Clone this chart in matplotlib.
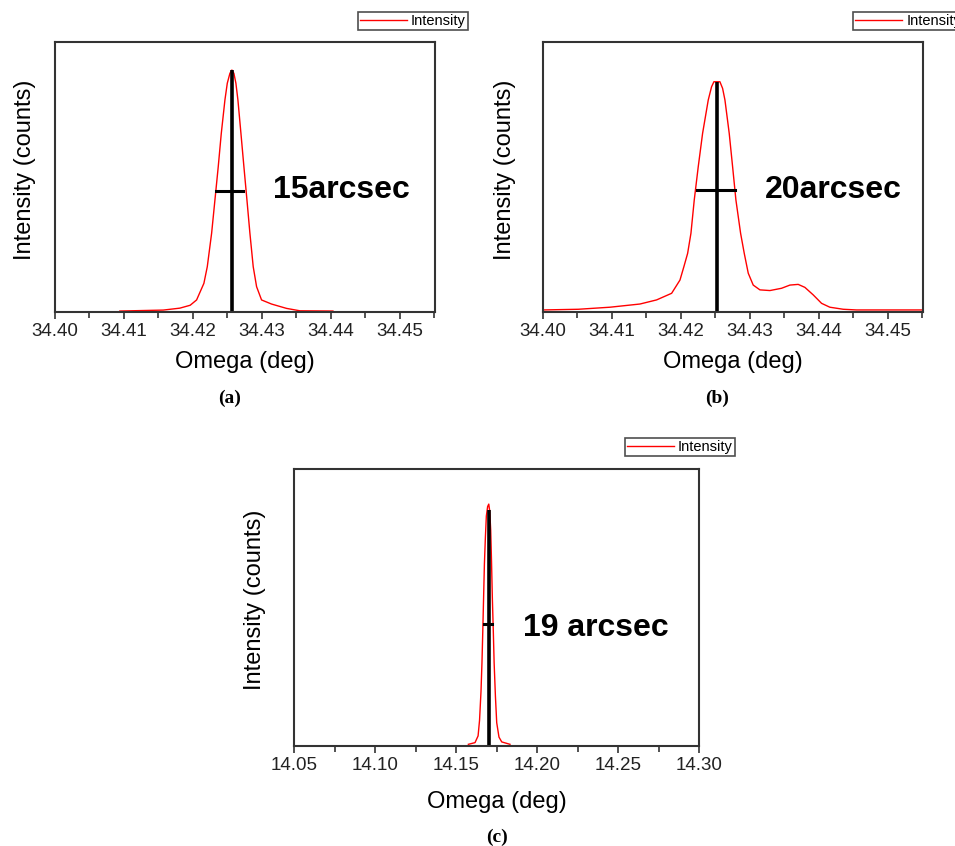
"""Omega rocking curves, three samples"""

import matplotlib
matplotlib.use("Agg")
import matplotlib.pyplot as plt
from matplotlib.ticker import MultipleLocator, NullLocator

plt.rcParams["font.family"] = ["Liberation Sans", "DejaVu Sans"]

# ---- data (intensity normalised to peak = 1) ----
omega_a = [34.4094, 34.4157, 34.4181, 34.4196, 34.42053, 34.42159, 34.42208, 34.42271,
           34.42319, 34.42367, 34.42411, 34.42464, 34.42498, 34.42536, 34.42565, 34.42594,
           34.42623, 34.42652, 34.42696, 34.42739, 34.42783, 34.42826, 34.42874, 34.42923,
           34.42995, 34.43140, 34.43357, 34.43551, 34.4403]
intensity_a = [0.0, 0.004, 0.012, 0.024, 0.046, 0.115, 0.184, 0.323,
               0.461, 0.599, 0.737, 0.876, 0.945, 0.986, 1.0, 0.986,
               0.945, 0.876, 0.737, 0.599, 0.461, 0.323, 0.184, 0.101,
               0.046, 0.029, 0.011, 0.001, 0.0]

omega_b = [34.4000, 34.40512, 34.40971, 34.41406, 34.41647, 34.41865, 34.41986, 34.42043,
           34.42097, 34.42145, 34.42193, 34.42251, 34.42314, 34.42396, 34.42444, 34.42478,
           34.42565, 34.42604, 34.42638, 34.42700, 34.42749, 34.42797, 34.42865, 34.42918,
           34.42976, 34.43048, 34.43145, 34.43290, 34.43459, 34.43580, 34.43700, 34.43797,
           34.43918, 34.44039, 34.44159, 34.44353, 34.44546, 34.4551]
intensity_b = [0.0, 0.003, 0.012, 0.026, 0.044, 0.073, 0.131, 0.190,
               0.248, 0.336, 0.482, 0.628, 0.774, 0.920, 0.978, 1.0,
               1.0, 0.971, 0.920, 0.774, 0.628, 0.482, 0.336, 0.248,
               0.161, 0.109, 0.088, 0.085, 0.095, 0.109, 0.112, 0.099,
               0.066, 0.029, 0.012, 0.003, 0.0, 0.0]

omega_c = [14.1576, 14.1617, 14.1636, 14.1645, 14.1654, 14.1660, 14.1665, 14.1670,
           14.1675, 14.1681, 14.1687, 14.1695, 14.1702, 14.1708, 14.1714, 14.1719,
           14.1724, 14.1730, 14.1735, 14.1743, 14.1751, 14.1765, 14.1782, 14.1833]
intensity_c = [0.0, 0.007, 0.035, 0.10, 0.22, 0.34, 0.47, 0.61,
               0.75, 0.86, 0.95, 0.99, 1.0, 0.97, 0.89, 0.76,
               0.61, 0.47, 0.34, 0.20, 0.09, 0.03, 0.01, 0.0]

# peak marker (centre, top) and FWHM bar (left, right, height)
peak_a = [34.4256, 1.0]
fwhm_a = [34.4234, 34.4273, 0.5]
peak_b = [34.4252, 1.0]
fwhm_b = [34.4224, 34.4278, 0.526]
peak_c = [14.1701, 0.975]
fwhm_c = [14.1673, 14.1722, 0.5]

labels = ["15arcsec", "20arcsec", "19 arcsec"]
panel_tags = ["(a)", "(b)", "(c)"]


def style_axes(ax, major, minor):
    for sp in ax.spines.values():
        sp.set_color("#333333")
        sp.set_linewidth(1.5)
    ax.yaxis.set_major_locator(NullLocator())
    ax.xaxis.set_major_locator(MultipleLocator(major))
    ax.xaxis.set_minor_locator(MultipleLocator(minor))
    ax.tick_params(axis="x", which="major", direction="out", length=5, width=1.2,
                   labelsize=13.5, pad=3, colors="#333333", labelcolor="#222222")
    ax.tick_params(axis="x", which="minor", direction="out", length=4, width=1.2,
                   colors="#333333")
    ax.set_xlabel("Omega (deg)", fontsize=17, va="center")
    ax.set_ylabel("Intensity (counts)", fontsize=17)


def draw_panel(ax, x, y, peak, fwhm, label, text_xy):
    ax.plot(x, y, color="red", linewidth=1.0, label="Intensity")
    ax.plot([peak[0], peak[0]], [ax.get_ylim()[0], peak[1]], color="black",
            linewidth=2.6, solid_capstyle="butt")
    ax.plot([fwhm[0], fwhm[1]], [fwhm[2], fwhm[2]], color="black", linewidth=2.2)
    ax.text(text_xy[0], text_xy[1], label, transform=ax.transAxes,
            fontsize=23, fontweight="bold", va="center", ha="left")


fig = plt.figure(figsize=(9.55, 8.46), dpi=100)

ax_a = fig.add_axes([0.0576, 0.6312, 0.3979, 0.3191])
ax_b = fig.add_axes([0.5686, 0.6312, 0.3979, 0.3191])
ax_c = fig.add_axes([0.3079, 0.1182, 0.4241, 0.3274])

# (a)
ax_a.set_xlim(34.40, 34.4551)
ax_a.set_ylim(-0.004, 1.116)
style_axes(ax_a, 0.01, 0.005)
draw_panel(ax_a, omega_a, intensity_a, peak_a, fwhm_a, labels[0], (0.574, 0.452))
ax_a.yaxis.set_label_coords(-0.05, 0.526)
ax_a.xaxis.set_label_coords(0.5, -0.185)

# (b)
ax_b.set_xlim(34.40, 34.4551)
ax_b.set_ylim(-0.009, 1.174)
style_axes(ax_b, 0.01, 0.005)
draw_panel(ax_b, omega_b, intensity_b, peak_b, fwhm_b, labels[1], (0.584, 0.452))
ax_b.yaxis.set_label_coords(-0.071, 0.526)
ax_b.xaxis.set_label_coords(0.5, -0.185)

# (c)
ax_c.set_xlim(14.05, 14.30)
ax_c.set_ylim(-0.007, 1.146)
style_axes(ax_c, 0.05, 0.025)
draw_panel(ax_c, omega_c, intensity_c, peak_c, fwhm_c, labels[2], (0.565, 0.426))
ax_c.yaxis.set_label_coords(-0.070, 0.527)
ax_c.xaxis.set_label_coords(0.5, -0.202)

# legends, placed in figure coords; (b) runs off the right edge like the original
legend_spots = [
    (ax_a, "upper right", (468 / 955, 1 - 12 / 846)),
    (ax_b, "upper left", (853 / 955, 1 - 12 / 846)),
    (ax_c, "upper right", (735 / 955, 1 - 438 / 846)),
]
for ax, loc, anchor in legend_spots:
    leg = ax.legend(handles=ax.get_lines()[:1], loc=loc,
                    bbox_to_anchor=anchor, bbox_transform=fig.transFigure,
                    fontsize=10.5, frameon=True, fancybox=False, borderpad=0.15,
                    handlelength=3.2, handletextpad=0.3, borderaxespad=0)
    leg.get_frame().set_edgecolor("#222222")
    leg.get_frame().set_linewidth(1.2)

tag_pos = [(230 / 955, 1 - 398 / 846), (717 / 955, 1 - 398 / 846), (497 / 955, 1 - 837 / 846)]
for tag, (tx, ty) in zip(panel_tags, tag_pos):
    fig.text(tx, ty, tag, fontsize=14, fontweight="bold", family="Liberation Serif",
             ha="center", va="center")

plt.savefig("out.png", dpi=100)
